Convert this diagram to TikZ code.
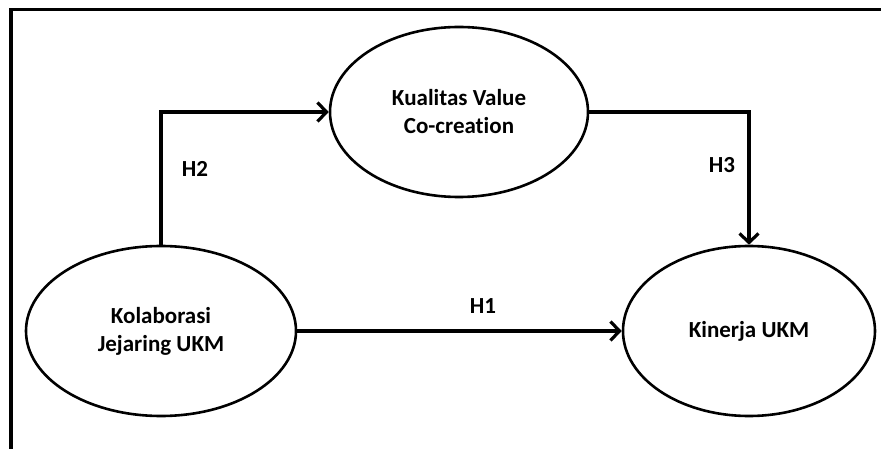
\documentclass[tikz,border=0pt]{standalone}
\usepackage{fontspec}
\setmainfont{Carlito}[Ligatures=NoCommon]
\usetikzlibrary{shapes.geometric,arrows.meta}
\begin{document}
\begin{tikzpicture}[x=1pt,y=-1pt,
  latent/.style={draw,ellipse,line width=2.6pt,inner sep=0pt,minimum height=170pt,
    align=center,font=\fontsize{23}{28}\selectfont\bfseries},
  conn/.style={line width=3.2pt,-{Straight Barb[length=9pt,width=19pt,line width=3.2pt]}},
  hlab/.style={font=\fontsize{23}{27}\selectfont\bfseries,inner sep=0pt},
  frame/.style={line width=3.2pt}]
\useasboundingbox (0,0) rectangle (881,449);
\coordinate (ftr) at (881,9.5);
\coordinate (ftl) at (11,9.5);
\coordinate (fbl) at (11,449);
\draw[frame] (ftr) -- (ftl) -- (fbl);
\node[latent,minimum width=258pt] (kua) at (459,112) {Kualitas Value\\Co-creation};
\node[latent,minimum width=270pt] (kol) at (161,331) {Kolaborasi\\Jejaring UKM};
\node[latent,minimum width=252pt] (kin) at (749,331) {Kinerja UKM};
\draw[conn] (kol.north) |- (kua.west);
\draw[conn] (kua.east) -| (kin.north);
\draw[conn] (kol.east) -- (kin.west);
\node[hlab] (h2) at (195,169) {H2};
\node[hlab] (h3) at (722,165) {H3};
\node[hlab] (h1) at (483,306) {H1};
\end{tikzpicture}
\end{document}
